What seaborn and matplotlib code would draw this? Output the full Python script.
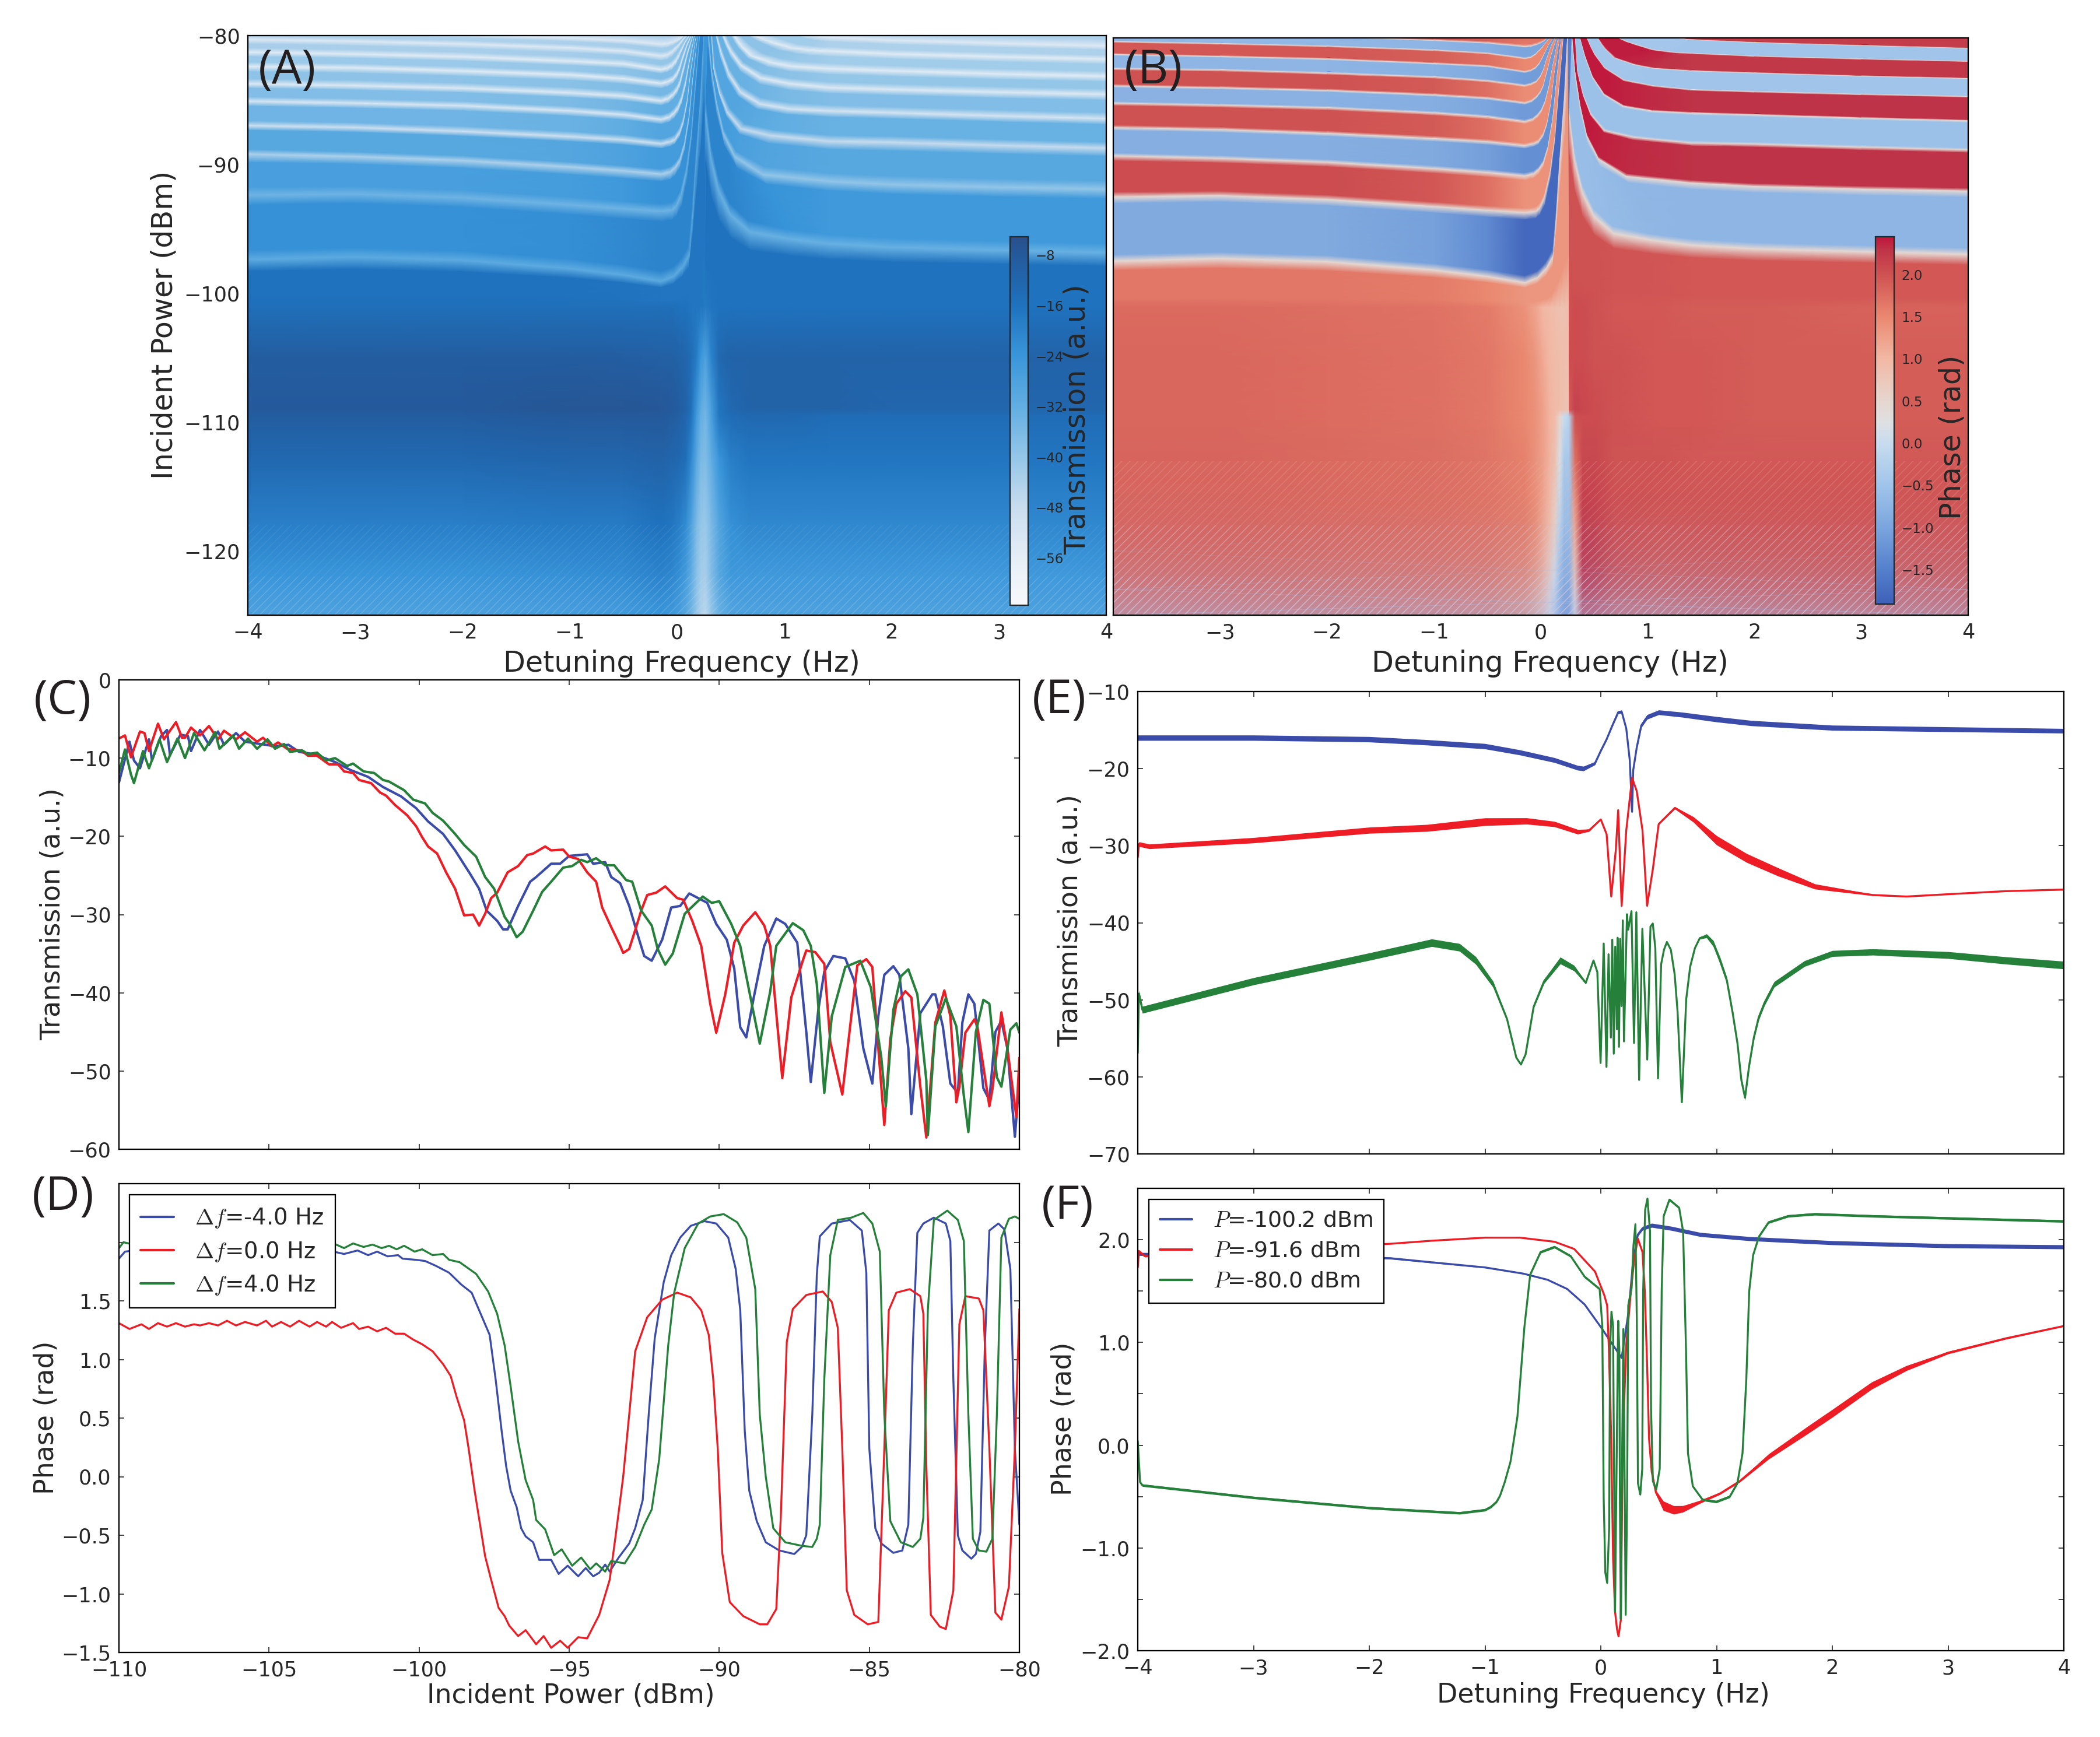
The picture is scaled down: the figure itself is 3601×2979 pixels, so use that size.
import numpy as np
import matplotlib
matplotlib.use("Agg")
import matplotlib.pyplot as plt
import seaborn as sns
from matplotlib.colors import LinearSegmentedColormap, Normalize

BLUE = "#3b4ba9"
RED = "#ee1c25"
GREEN = "#25803a"
W, H = 3601, 2979

# colour scales
T_STOPS = [-63.5, -56, -48, -40, -32, -24, -16, -8, -5.1]
T_COLORS = ["#f7fafc", "#e6eef6", "#c8dcee", "#94c6e8", "#62aee2", "#3a96da", "#1f72be", "#245a9c", "#2a4f8a"]
PH_STOPS = [-1.907, -1.5, -1.0, -0.5, 0.0, 0.25, 0.5, 1.0, 1.5, 2.0, 2.3, 2.446]
PH_COLORS = ["#3e60b8", "#5580cc", "#7ba5dd", "#a0c4ea", "#c8dcef", "#dfe0e2", "#e6d6d0", "#f2b8a4",
             "#ea8870", "#cf5252", "#be3347", "#c0143c"]

# resonance ridges left of the centre, top to bottom: detuning (Hz) and power (dBm)
L_FLAT_X = [-4, -3, -2, -1, -0.5, -0.15]
L_FLAT_P = [
    [-79.5, -79.7, -79.9, -80.2, -80.4, -80.68],
    [-80.3, -80.45, -80.65, -80.95, -81.2, -81.59],
    [-81.3, -81.45, -81.65, -82, -82.2, -82.65],
    [-82.4, -82.5, -82.75, -83.05, -83.35, -83.71],
    [-83.75, -83.9, -84.1, -84.45, -84.7, -85.08],
    [-85.1, -85.25, -85.45, -85.85, -86.15, -86.52],
    [-87, -87.15, -87.45, -87.85, -88.1, -88.41],
    [-89.2, -89.4, -89.7, -90.2, -90.5, -90.76],
    [-92.4, -92.3, -92.6, -93.15, -93.45, -93.64],
    [-97.4, -97.2, -97.45, -98.1, -98.6, -99.09],
]
L_RISE_X = [
    [-0.096, -0.042, -0.005, 0.022, 0.04, 0.053, 0.06],
    [-0.096, -0.051, -0.015, 0.013, 0.04, 0.067, 0.094],
    [-0.096, -0.051, -0.015, 0.013, 0.04, 0.076, 0.118],
    [-0.096, -0.042, -0.005, 0.022, 0.058, 0.1, 0.136],
    [-0.087, -0.042, -0.005, 0.022, 0.058, 0.1, 0.151],
    [-0.078, -0.033, 0.004, 0.04, 0.076, 0.113, 0.165],
    [-0.069, -0.024, 0.022, 0.058, 0.094, 0.131, 0.18],
    [-0.069, -0.024, 0.022, 0.067, 0.113, 0.149, 0.194],
    [-0.051, -0.015, 0.031, 0.085, 0.131, 0.167, 0.212],
    [-0.033, 0.05, 0.119, 0.146, 0.18, 0.22, 0.25],
]
L_RISE_P = [
    [-80.65, -80.53, -80.41, -80.3, -80.2, -80.08, -80],
    [-81.52, -81.29, -80.98, -80.76, -80.45, -80.2, -80],
    [-82.55, -82.35, -82.02, -81.59, -81.14, -80.53, -80],
    [-83.61, -83.41, -83.03, -82.58, -81.59, -80.61, -80],
    [-84.92, -84.62, -84.24, -83.79, -82.65, -81.29, -80],
    [-86.36, -86.06, -85.68, -85, -83.86, -82.2, -80],
    [-88.26, -88.11, -87.58, -86.74, -85.23, -82.65, -80],
    [-90.6, -90.3, -89.77, -88.56, -86.29, -83.26, -80],
    [-93.56, -93.33, -92.58, -90.68, -87.95, -84.32, -80],
    [-98.71, -98, -97, -94, -89.4, -84.9, -80],
]

# resonance ridges right of the centre
R_TAIL_X = [1.414, 2, 3, 4]
R_HEAD_X = [
    [1.268, 1.29, 1.31, 1.34, 1.37, 1.4],
    [0.72, 0.8, 0.867, 1.05, 1.2, 1.3],
    [0.53, 0.56, 0.593, 0.684, 0.867, 1.05],
    [0.429, 0.46, 0.5, 0.593, 0.776, 1.05],
    [0.365, 0.411, 0.484, 0.593, 0.776, 1.05],
    [0.319, 0.338, 0.392, 0.465, 0.593, 0.867],
    [0.292, 0.319, 0.365, 0.429, 0.538, 0.8],
    [0.265, 0.319, 0.392, 0.502, 0.684, 1.05],
]
R_P = [
    [-80, -80.03, -80.06, -80.09, -80.12, -80.14, -80.15, -80.37, -80.61, -80.82],
    [-80, -80.3, -80.48, -80.94, -81.1, -81.17, -81.21, -81.43, -81.65, -81.83],
    [-80, -80.4, -80.79, -81.55, -82.08, -82.38, -82.58, -82.74, -82.99, -83.17],
    [-80, -80.6, -81.24, -82.3, -83.29, -83.74, -84.05, -84.2, -84.4, -84.57],
    [-80, -81.39, -83.06, -84.42, -85.33, -85.71, -85.86, -86, -86.25, -86.46],
    [-80, -82.6, -84.42, -85.94, -87.23, -87.76, -88.21, -88.29, -88.53, -88.74],
    [-80, -82.6, -85.18, -87.61, -89.42, -90.8, -91.32, -91.58, -91.79, -91.94],
    [-86.09, -89.73, -92.15, -93.97, -95.26, -95.79, -96.17, -96.45, -96.67, -96.88],
]

# lower part of the maps, one row per power
LOW_P = [-101, -105, -109, -109.5, -113, -118, -122, -125]
LOW_L_X = [-4, -3, -2, -1, -0.5, -0.15, -0.05, 0.02, 0.08, 0.13, 0.18, 0.22, 0.265]
LOW_R_X = [0.265, 0.319, 0.392, 0.502, 0.684, 1.05, 1.414, 2, 3, 4]

A_LOW_L = [
    [-15, -15, -15, -15, -15, -15, -15, -16, -16, -17, -17, -17, -18],
    [-9, -9, -9, -9, -9.5, -10, -10, -11, -12, -14, -18, -24, -28],
    [-8, -8, -8, -7, -7, -7.5, -8, -9, -11, -15, -24, -31, -34],
    [-9, -9, -9, -8, -8, -8, -9, -10, -12, -16, -25, -32, -35],
    [-13, -13, -13, -12, -12, -11, -12, -13, -15, -21, -30, -36, -37],
    [-19, -19, -19, -18, -18, -16, -17, -19, -22, -28, -36, -40, -41],
    [-24, -24, -24, -23, -22, -20, -21, -23, -26, -31, -38, -42, -43],
    [-28, -28, -28, -27, -26, -24, -25, -27, -30, -34, -40, -44, -46],
]
A_LOW_R = [
    [-18, -17, -16, -16, -16, -16, -16, -16, -16, -16],
    [-28, -20, -13, -11, -11, -11, -11, -11, -11, -11],
    [-34, -27, -17, -13, -11, -11, -11, -12, -12, -12],
    [-35, -27, -17, -14, -13, -13, -14, -14, -14, -14],
    [-37, -32, -24, -19, -17, -17, -17, -17, -17, -17],
    [-41, -36, -29, -23, -21, -21, -21, -21, -21, -21],
    [-43, -37, -30, -25, -25, -25, -25, -25, -25, -25],
    [-46, -40, -33, -29, -28, -28, -28, -28, -28, -28],
]
B_LOW_L = [
    [1.78, 1.78, 1.74, 1.7, 1.62, 1.4, 1.2, 1.0, 0.95, 0.9, 0.85, 0.85, 0.9],
    [1.8, 1.8, 1.76, 1.72, 1.65, 1.5, 1.35, 1.15, 1.0, 0.95, 0.9, 0.9, 0.9],
    [1.8, 1.8, 1.76, 1.72, 1.65, 1.5, 1.4, 1.25, 1.05, 0.95, 0.9, 0.85, 0.8],
    [1.8, 1.8, 1.76, 1.72, 1.65, 1.5, 1.4, 1.25, 1.05, 0.95, 0.5, 0.0, -0.2],
    [1.82, 1.82, 1.78, 1.74, 1.68, 1.55, 1.4, 1.25, 1.05, 0.85, 0.2, -0.4, -0.4],
    [1.85, 1.85, 1.8, 1.75, 1.7, 1.6, 1.45, 1.2, 0.95, 0.6, -0.2, -0.6, -0.6],
    [1.85, 1.85, 1.8, 1.75, 1.7, 1.55, 1.35, 1.1, 0.7, 0.1, -0.6, -0.9, -0.9],
    [1.85, 1.85, 1.8, 1.75, 1.7, 1.5, 1.2, 0.9, 0.3, -0.3, -1.0, -1.3, -1.3],
]
B_LOW_R = [
    [2.0, 2.05, 2.05, 2.0, 1.95, 1.95, 1.9, 1.9, 1.85, 1.85],
    [2.05, 2.05, 2.05, 2.0, 2.0, 1.95, 1.95, 1.9, 1.9, 1.9],
    [1.9, 2.15, 2.1, 2.05, 2.0, 1.95, 1.95, 1.9, 1.9, 1.9],
    [-0.2, 2.0, 2.05, 2.05, 2.0, 1.95, 1.95, 1.9, 1.9, 1.9],
    [-0.4, 1.7, 2.1, 2.1, 2.0, 2.0, 1.95, 1.95, 1.95, 1.95],
    [-0.6, 1.2, 2.25, 2.2, 2.05, 2.0, 2.0, 2.0, 2.0, 2.0],
    [-0.9, 0.8, 2.35, 2.3, 2.1, 2.0, 2.0, 2.0, 2.0, 2.0],
    [-1.3, 0.3, 2.3, 2.25, 2.05, 2.0, 2.0, 2.0, 2.0, 2.0],
]

# values on the ridges and inside each band
L_MIX = [0, 0, 0, 0.15, 0.5, 1, 1, 1, 1, 1, 1, 1, 1]
R_MIX = [1, 1, 1, 1, 0.7, 0.3, 0, 0, 0, 0]
A_L_EDGE = [-44, -54, -54, -55, -55, -54, -53, -50, -44, -34, -31]
A_L_OUTER = [-44, -44, -43, -41, -39, -37, -34, -30, -27, -23, -16]
A_L_INNER = [-44, -42, -40, -37, -35, -32, -29, -26, -23, -20, -17]
A_L_FRAC = [0.3, 0.35, 0.35, 0.3, 0.3, 0.25, 0.2, 0.16, 0.2, 0.15, 0.25]
A_R_EDGE = [-44, -54, -55, -55, -54, -52, -48, -40, -33]
A_R_OUTER = [-44, -44, -42, -40, -37, -33, -30, -25, -16]
A_R_INNER = [-44, -42, -39, -36, -33, -29, -26, -20, -16]
A_R_FRAC = [0.3, 0.3, 0.3, 0.3, 0.25, 0.2, 0.2, 0.15, 0.25]
B_L_EDGE = [0.45] * 11
B_L_OUTER = [2.0, -0.7, 1.95, -0.75, 2.0, -0.8, 2.0, -0.85, 2.05, -0.92, 1.65]
B_L_INNER = [1.65, -1.0, 1.5, -1.1, 1.45, -1.15, 1.45, -1.3, 1.4, -1.8, 1.35]
B_L_FRAC = [0.1, 0.1, 0.1, 0.1, 0.1, 0.1, 0.1, 0.1, 0.12, 0.1, 0.2]
B_R_EDGE = [0.45] * 9
B_R_OUTER = [2.2, -0.5, 2.25, -0.5, 2.3, -0.55, 2.3, -0.75, 1.95]
B_R_INNER = [2.3, -0.45, 2.4, -0.45, 2.42, -0.55, 2.42, -0.6, 2.0]
B_R_FRAC = [0.04, 0.05, 0.05, 0.05, 0.05, 0.07, 0.07, 0.1, 0.2]

# bluish speckle over the bottom of (B), as opacity
SPECKLE_X = [-4, 4]
SPECKLE_P = [-110, -116, -120, -123, -125]
SPECKLE = [[0, 0], [0.03, 0.03], [0.12, 0.12], [0.28, 0.28], [0.5, 0.5]]

# panel C: transmission against power
C_RED_X = [-110, -109.8, -109.6, -109.3, -109.15, -109, -108.7, -108.5, -108.1, -107.9, -107.8, -107.6, -107.3, -107, -106.7, -106.5, -106.1, -105.8, -105.4, -105.2, -104.9, -104.7, -104.4, -103.9, -103.7, -103.4, -103, -102.7, -102.5, -102.2, -102, -101.6, -101.3, -101.1, -100.8, -100.4, -100.1, -99.9, -99.7, -99.4, -99.1, -98.8, -98.5, -98.2, -98, -97.8, -97.6, -97.4, -97.05, -96.7, -96.4, -96.2, -95.8, -95.6, -95.2, -95, -94.7, -94.4, -94.1, -93.9, -93.6, -93.3, -93.2, -93, -92.8, -92.6, -92.4, -92.1, -91.8, -91.4, -91.2, -90.9, -90.6, -90.3, -90.1, -89.8, -89.5, -89.2, -88.8, -88.5, -88.3, -88.1, -87.9, -87.6, -87.2, -87.1, -86.8, -86.5, -86.3, -85.9, -85.6, -85.4, -85.1, -84.9, -84.7, -84.5, -84.3, -84.1, -83.8, -83.6, -83.3, -83.1, -82.8, -82.5, -82.3, -82.1, -82, -81.8, -81.5, -81.4, -81, -80.9, -80.6, -80.4, -80.1, -80]
C_RED_Y = [-7.5, -7.1, -9.9, -6.6, -6.8, -9.1, -5.6, -7.6, -5.4, -7.4, -7.4, -6.1, -7.1, -5.9, -7.6, -6.5, -7.6, -6.7, -7.9, -7.4, -8.5, -8, -8.8, -9.1, -9.7, -9.7, -10.8, -10.8, -11.7, -11.9, -12.8, -13.2, -14.4, -14.8, -16, -17.3, -18.7, -20.1, -21.3, -22.2, -24.6, -26.7, -30.1, -30, -31.4, -29.9, -27.9, -27.2, -24.6, -23.8, -22.4, -22.2, -21.3, -21.8, -21.7, -22.6, -22.9, -24.6, -25.8, -29.1, -31.6, -34, -34.9, -34.4, -32, -29.5, -27.5, -27.2, -26.4, -27.9, -28.1, -30.8, -34, -41.4, -45.1, -40.2, -33.6, -31.4, -29.7, -31.4, -34, -42.6, -50.9, -40.6, -35.7, -34.6, -34.8, -36.3, -46.3, -53, -43, -36.5, -35.7, -36.7, -47.1, -56.9, -45.9, -41.4, -39.8, -40.6, -52, -58.5, -43.8, -39.7, -43, -54, -52, -45.1, -43.4, -44.3, -54.5, -52.4, -42.5, -47.1, -55.9, -48.3]
C_BLUE_X = [-110, -109.65, -109.5, -109.3, -109, -108.9, -108.6, -108.4, -108.3, -107.95, -107.7, -107.6, -107.3, -107, -106.7, -106.5, -106.1, -105.8, -105.1, -104.8, -104.35, -104, -103.5, -102.8, -102.3, -101.7, -101.2, -100.6, -100.1, -99.7, -99.2, -98.8, -98.3, -98, -97.75, -97.4, -97.2, -97.05, -96.7, -96.3, -96.1, -95.6, -95.3, -95, -94.4, -94.2, -93.8, -93.6, -93.3, -93, -92.7, -92.5, -92.25, -91.9, -91.6, -91.3, -91, -90.4, -90.1, -89.75, -89.5, -89.3, -89.1, -88.85, -88.5, -88.1, -87.8, -87.4, -87.1, -86.95, -86.7, -86.5, -86.2, -85.8, -85.5, -85.2, -84.9, -84.7, -84.5, -84.2, -84, -83.7, -83.6, -83.3, -82.9, -82.8, -82.55, -82.3, -82.05, -81.9, -81.7, -81.5, -81.2, -81, -80.8, -80.6, -80.4, -80.15, -80]
C_BLUE_Y = [-13.1, -7.9, -10.3, -11.3, -7.6, -10.3, -7.2, -6.4, -9.6, -7, -7.2, -9.1, -6.4, -8.3, -6.6, -8.3, -6.8, -7.9, -8.3, -8.5, -8.3, -9.2, -9.5, -10.5, -11.5, -12.4, -13.7, -14.9, -16.4, -18.1, -19.7, -21.8, -24.8, -26.7, -29.5, -30.8, -31.9, -31.9, -28.9, -25.8, -25.2, -23.5, -23.5, -22.5, -22.3, -23.5, -23.3, -25.2, -26, -28.9, -32.8, -35.3, -35.9, -33.2, -29.1, -28.9, -27.3, -28.5, -31.2, -33.2, -36.9, -44.4, -45.7, -40.6, -34, -30.5, -31.2, -33.6, -45, -51.4, -42.2, -37.3, -35.3, -35.6, -38.5, -47.1, -51.6, -43, -37.7, -36.6, -37.7, -47.1, -55.5, -42.6, -40.2, -40.2, -44.3, -51.6, -52.8, -43.8, -40.2, -41.4, -52.2, -53.7, -45, -43.6, -47.1, -58.4, -51.2]
C_GREEN_X = [-110, -109.8, -109.6, -109.5, -109.2, -109, -108.65, -108.4, -108.05, -107.8, -107.5, -107.15, -106.8, -106.65, -106.2, -106, -105.7, -105.4, -105.05, -104.8, -104.5, -104.3, -103.9, -103.7, -103.4, -103.1, -102.8, -102.4, -102.2, -101.85, -101.5, -101.2, -101, -100.5, -100.2, -99.8, -99.55, -99.2, -98.8, -98.5, -98.1, -97.8, -97.5, -97.15, -96.95, -96.75, -96.55, -96.2, -95.9, -95.6, -95.2, -94.9, -94.6, -94.4, -94.1, -93.8, -93.5, -93.1, -92.9, -92.6, -92.25, -92.05, -91.8, -91.55, -91.15, -90.55, -90.25, -90, -89.6, -89.3, -89, -88.65, -88.3, -88.1, -87.55, -87.2, -86.95, -86.75, -86.5, -86.25, -85.8, -85.3, -84.95, -84.6, -84.45, -84.2, -83.95, -83.7, -83.4, -83.1, -83.05, -82.8, -82.45, -82.1, -81.85, -81.7, -81.45, -81.2, -81, -80.75, -80.6, -80.3, -80.1, -80]
C_GREEN_Y = [-11.9, -8.9, -12.1, -13.2, -9.1, -11.3, -7.6, -10.5, -7.5, -10, -6.8, -9, -6.7, -8.8, -7.1, -8.8, -7.5, -8.8, -7.6, -8.8, -8.2, -9.2, -9, -9.5, -9.3, -10.3, -10, -11, -10.7, -11.7, -11.9, -12.8, -13, -14.1, -15.3, -15.8, -17, -18, -19.7, -21.1, -22.6, -25.2, -26.7, -30.3, -31.4, -32.9, -32.2, -29.5, -27.1, -25.8, -24, -23.8, -23, -23.3, -22.8, -23.7, -23.7, -25.6, -25.8, -29.5, -31.4, -34.4, -36.4, -35, -29.9, -27.7, -28.5, -28.3, -31.2, -34, -39.8, -46.5, -39.8, -34, -31.1, -32, -34, -38.9, -52.8, -43, -36.7, -35.9, -39.3, -48.3, -54.5, -42.2, -37.9, -37, -40.2, -51.2, -58.2, -44.3, -40.7, -44.3, -53.2, -57.8, -45, -40.9, -41.4, -50.8, -52, -44.7, -43.9, -45.1]

# panel D: phase against power
D_RED_X = [-110, -109.65, -109.25, -109, -108.7, -108.4, -108.1, -107.8, -107.5, -107.3, -107, -106.7, -106.4, -106.1, -105.8, -105.4, -105.1, -104.9, -104.6, -104.3, -104, -103.65, -103.4, -103.1, -102.9, -102.6, -102.2, -102, -101.7, -101.4, -101.1, -100.8, -100.5, -100.2, -99.9, -99.55, -99.2, -98.95, -98.75, -98.5, -98.35, -98.15, -97.95, -97.8, -97.6, -97.35, -97.15, -97, -96.7, -96.45, -96.1, -95.85, -95.6, -95.3, -95.05, -94.7, -94.4, -94, -93.65, -93.45, -93.2, -93, -92.8, -92.4, -91.9, -91.4, -90.95, -90.6, -90.35, -90.2, -90.05, -89.9, -89.65, -89.2, -88.65, -88.4, -88.1, -87.95, -87.75, -87.55, -87.1, -86.55, -86.25, -86.05, -85.9, -85.75, -85.5, -85.05, -84.7, -84.5, -84.35, -84.1, -83.65, -83.3, -83.2, -83.1, -82.95, -82.65, -82.45, -82.2, -82, -81.8, -81.35, -81.2, -81, -80.8, -80.6, -80.35, -80.15, -80]
D_RED_Y = [1.31, 1.26, 1.3, 1.26, 1.31, 1.28, 1.31, 1.28, 1.3, 1.29, 1.31, 1.29, 1.33, 1.29, 1.32, 1.29, 1.33, 1.28, 1.32, 1.28, 1.33, 1.28, 1.32, 1.28, 1.32, 1.27, 1.31, 1.26, 1.28, 1.24, 1.27, 1.22, 1.22, 1.17, 1.13, 1.07, 0.96, 0.86, 0.68, 0.48, 0.24, -0.12, -0.44, -0.68, -0.88, -1.12, -1.19, -1.27, -1.36, -1.31, -1.43, -1.36, -1.46, -1.4, -1.46, -1.37, -1.38, -1.18, -0.88, -0.5, 0, 0.53, 1.07, 1.36, 1.51, 1.57, 1.53, 1.42, 1.21, 0.83, 0.24, -0.65, -1.07, -1.19, -1.26, -1.26, -1.13, -0.35, 1.15, 1.43, 1.55, 1.58, 1.49, 1.27, 0.24, -0.97, -1.18, -1.26, -1.24, 0.24, 1.42, 1.57, 1.6, 1.54, 1.39, 0.09, -1.18, -1.28, -1.3, -0.97, 1.3, 1.54, 1.52, 1.42, 0.24, -1.16, -1.22, -0.94, 0.24, 1.43]
D_BLUE_X = [-110, -109.8, -109.5, -108.5, -107, -105.5, -104, -102.85, -102.5, -102.05, -101.7, -101.4, -101.05, -100.7, -100.55, -100.1, -99.8, -99.45, -99, -98.6, -98.25, -98, -97.65, -97.45, -97.25, -97.1, -96.95, -96.75, -96.6, -96.45, -96.2, -96, -95.6, -95.35, -95.05, -94.7, -94.45, -94.2, -94, -93.8, -93.65, -93.35, -93, -92.8, -92.55, -92.35, -92.15, -91.85, -91.6, -91.3, -90.95, -90.5, -90.1, -89.7, -89.45, -89.3, -89.15, -89, -88.75, -88.45, -88, -87.5, -87.25, -87.1, -86.9, -86.75, -86.65, -86.25, -85.65, -85.25, -85.1, -85, -84.8, -84.6, -84.2, -83.9, -83.7, -83.55, -83.4, -83.2, -82.85, -82.45, -82.3, -82.2, -82.05, -81.9, -81.6, -81.45, -81.3, -81.15, -81, -80.7, -80.5, -80.3, -80.15, -80]
D_BLUE_Y = [1.86, 1.92, 1.93, 1.93, 1.93, 1.93, 1.93, 1.92, 1.9, 1.93, 1.89, 1.92, 1.88, 1.89, 1.86, 1.85, 1.84, 1.8, 1.74, 1.64, 1.57, 1.42, 1.21, 0.83, 0.39, 0.09, -0.12, -0.26, -0.44, -0.51, -0.56, -0.71, -0.71, -0.83, -0.76, -0.85, -0.78, -0.85, -0.82, -0.75, -0.81, -0.69, -0.57, -0.44, -0.2, 0.53, 1.18, 1.66, 1.89, 2.04, 2.14, 2.18, 2.16, 2.04, 1.77, 1.42, 0.39, -0.12, -0.38, -0.56, -0.63, -0.66, -0.6, -0.5, 0.53, 1.72, 2.05, 2.16, 2.19, 2.1, 1.74, 0.24, -0.44, -0.57, -0.65, -0.63, -0.41, 1.12, 2.08, 2.16, 2.21, 2.16, 2.01, 0.83, -0.5, -0.63, -0.7, -0.66, -0.47, 1.12, 2.1, 2.16, 2.11, 1.77, 0.24, -0.41]
D_GREEN_X = [-110, -109.85, -109.5, -108.5, -107, -105.5, -104, -102.85, -102.5, -102.2, -101.85, -101.55, -101.25, -101, -100.75, -100.5, -100.15, -99.9, -99.55, -99.2, -99, -98.65, -98.1, -97.7, -97.4, -97.15, -96.95, -96.7, -96.45, -96.2, -96.1, -95.8, -95.5, -95.25, -94.9, -94.6, -94.3, -94.1, -93.8, -93.6, -93.15, -92.8, -92.5, -92.25, -92, -91.7, -91.5, -91.15, -90.7, -90.3, -89.85, -89.4, -89.1, -88.8, -88.65, -88.45, -88.2, -87.8, -87.25, -86.9, -86.75, -86.65, -86.5, -86.3, -86.05, -85.6, -85.2, -84.9, -84.65, -84.5, -84.3, -83.95, -83.55, -83.3, -83.2, -83.05, -82.85, -82.4, -82.05, -81.85, -81.7, -81.55, -81.35, -81.1, -80.9, -80.75, -80.6, -80.35, -80.15, -80]
D_GREEN_Y = [1.95, 2.0, 1.98, 1.98, 1.98, 1.98, 1.98, 1.99, 1.95, 1.99, 1.96, 1.98, 1.95, 1.97, 1.94, 1.97, 1.92, 1.94, 1.89, 1.9, 1.85, 1.83, 1.73, 1.58, 1.39, 1.12, 0.77, 0.3, -0.03, -0.2, -0.37, -0.45, -0.67, -0.62, -0.76, -0.69, -0.79, -0.74, -0.81, -0.72, -0.74, -0.6, -0.41, -0.28, 0.15, 1.12, 1.57, 1.95, 2.16, 2.22, 2.24, 2.17, 2.04, 1.6, 0.53, 0, -0.44, -0.56, -0.59, -0.6, -0.53, -0.41, 0.83, 1.89, 2.19, 2.21, 2.25, 2.16, 1.92, 0.53, -0.38, -0.56, -0.6, -0.53, -0.35, 1.42, 2.19, 2.27, 2.19, 2.01, 0.53, -0.53, -0.63, -0.64, -0.53, 0.53, 2.04, 2.2, 2.22, 2.2]

# panel E: transmission against detuning
E_BLUE_X = [-4, -3, -2, -1.5, -1, -0.7, -0.4, -0.2, -0.15, -0.05, 0, 0.05, 0.1, 0.15, 0.18, 0.22, 0.25, 0.27, 0.28, 0.31, 0.35, 0.4, 0.5, 0.7, 1, 1.3, 2, 3, 4]
E_BLUE_Y = [-16, -16, -16.2, -16.6, -17.1, -17.9, -18.9, -19.9, -20, -19.3, -17.7, -16.2, -14.4, -12.7, -12.6, -14.8, -18.9, -25.6, -20.2, -17.3, -14.4, -13.3, -12.7, -13, -13.6, -14.1, -14.7, -14.9, -15.1]
E_RED_X = [-4, -3.99, -3.9, -3, -2, -1.5, -1, -0.64, -0.4, -0.2, -0.1, 0, 0.05, 0.09, 0.13, 0.15, 0.18, 0.22, 0.27, 0.31, 0.36, 0.4, 0.45, 0.5, 0.64, 0.8, 1, 1.26, 1.53, 1.85, 2.35, 2.64, 3, 3.5, 4]
E_RED_Y = [-31.5, -29.8, -30.1, -29.3, -28, -27.7, -26.9, -26.8, -27.2, -28.2, -28, -26.6, -28.5, -36.6, -30.5, -25.4, -37.8, -28, -21.2, -22.9, -28, -37.8, -33, -27.2, -25.1, -26.6, -29.3, -31.6, -33.4, -35.3, -36.4, -36.6, -36.3, -35.9, -35.7]
E_GREEN_X = [-4, -3.99, -3.96, -3, -2, -1.46, -1.22, -1.08, -0.93, -0.81, -0.73, -0.69, -0.65, -0.58, -0.49, -0.35, -0.23, -0.13, -0.063, -0.03, -0.002, 0.025, 0.049, 0.067, 0.087, 0.099, 0.112, 0.125, 0.139, 0.145, 0.157, 0.167, 0.179, 0.19, 0.2, 0.226, 0.237, 0.265, 0.287, 0.307, 0.331, 0.359, 0.401, 0.429, 0.449, 0.471, 0.494, 0.521, 0.546, 0.571, 0.605, 0.638, 0.663, 0.7, 0.738, 0.772, 0.813, 0.855, 0.914, 0.972, 1.03, 1.089, 1.139, 1.181, 1.214, 1.246, 1.281, 1.322, 1.364, 1.414, 1.498, 1.76, 2, 2.35, 3, 3.5, 4]
E_GREEN_Y = [-56.9, -49.2, -51.3, -47.6, -44.4, -42.6, -43.2, -44.9, -48, -52.5, -57.5, -58.4, -57.1, -50.9, -47.6, -44.9, -45.9, -47.8, -44.9, -46.4, -58.2, -42.7, -58.7, -44.1, -54.9, -42.2, -57, -43.1, -53.8, -41.95, -56.1, -42.1, -50.8, -39.7, -55.4, -38.9, -40.9, -38.5, -55.6, -38.65, -60.4, -40.8, -57.75, -40.5, -40.1, -43.3, -60.2, -45.4, -43.5, -42.5, -43.5, -46.7, -51.5, -63.3, -49.9, -45.7, -43.3, -42, -41.7, -42.7, -44.9, -47.5, -51.7, -55.7, -60.4, -62.7, -58.6, -54.9, -52.3, -50.4, -48, -45.3, -44, -43.8, -44.2, -44.9, -45.5]

# panel F: phase against detuning
F_BLUE_X = [-4, -3, -1.82, -1.46, -1, -0.67, -0.46, -0.29, -0.14, 0, 0.12, 0.18, 0.24, 0.28, 0.32, 0.36, 0.44, 0.61, 0.86, 1.28, 2, 3, 4]
F_BLUE_Y = [1.86, 1.86, 1.82, 1.78, 1.73, 1.67, 1.61, 1.52, 1.37, 1.15, 0.95, 0.85, 1.3, 1.8, 2.05, 2.11, 2.14, 2.11, 2.05, 2.01, 1.97, 1.94, 1.93]
F_RED_X = [-4, -3.99, -3.94, -3, -1.82, -1.46, -1, -0.7, -0.4, -0.23, -0.05, 0.03, 0.055, 0.07, 0.09, 0.106, 0.123, 0.14, 0.153, 0.173, 0.19, 0.22, 0.26, 0.29, 0.32, 0.36, 0.38, 0.4, 0.417, 0.44, 0.476, 0.54, 0.63, 0.71, 0.86, 1.03, 1.2, 1.45, 1.79, 2, 2.34, 2.64, 3, 3.5, 4]
F_RED_Y = [1.73, 1.89, 1.84, 1.9, 1.96, 1.99, 2.02, 2.02, 1.98, 1.91, 1.69, 1.46, 1.36, 0.93, 0.06, -1.1, -1.62, -1.79, -1.86, -1.7, 0.06, 0.98, 1.5, 1.82, 2.01, 1.88, 1.5, 0.78, 0.06, -0.26, -0.46, -0.59, -0.63, -0.62, -0.55, -0.47, -0.35, -0.11, 0.15, 0.31, 0.58, 0.75, 0.9, 1.04, 1.16]
F_GREEN_X = [-4, -3.98, -3.96, -3, -2, -1.22, -1, -0.95, -0.9, -0.87, -0.83, -0.78, -0.72, -0.66, -0.61, -0.52, -0.4, -0.26, -0.14, -0.01, 0.013, 0.025, 0.039, 0.055, 0.072, 0.08, 0.092, 0.106, 0.114, 0.123, 0.136, 0.15, 0.16, 0.165, 0.173, 0.183, 0.195, 0.203, 0.215, 0.227, 0.237, 0.266, 0.282, 0.299, 0.311, 0.321, 0.341, 0.358, 0.366, 0.383, 0.403, 0.425, 0.434, 0.45, 0.479, 0.509, 0.526, 0.543, 0.593, 0.677, 0.711, 0.736, 0.753, 0.795, 0.879, 0.997, 1.114, 1.18, 1.224, 1.257, 1.282, 1.316, 1.366, 1.45, 1.618, 1.85, 2.35, 3, 4]
F_GREEN_Y = [0.04, -0.36, -0.39, -0.51, -0.61, -0.66, -0.63, -0.6, -0.55, -0.49, -0.36, -0.16, 0.28, 1.15, 1.66, 1.88, 1.93, 1.84, 1.64, 1.52, 1.16, -0.52, -1.24, -1.34, -0.81, 0.93, 1.3, 1.16, -0.23, -1.62, -0.23, 1.21, 0.93, -0.52, -1.69, -0.23, 1.13, 0.06, -1.65, -0.52, 1.36, 1.53, 1.94, 2.15, 1.22, -0.37, -0.48, -0.23, 1.5, 2.29, 2.4, 2.08, 0.35, -0.35, -0.43, -0.23, 1.5, 2.23, 2.39, 2.31, 2.08, 0.93, -0.08, -0.4, -0.53, -0.55, -0.5, -0.37, -0.08, 0.64, 1.5, 1.85, 2.03, 2.17, 2.23, 2.25, 2.23, 2.21, 2.18]

# half height of the fast ripple on E and F
E_RIPPLE = {
    "blue": ([-4, -1, -0.1, 0.0, 0.4, 1, 4], [0.35, 0.35, 0.3, 0.12, 0.3, 0.35, 0.3]),
    "red": ([-4, -2, -1, -0.2, 0.0, 0.6, 1, 1.5, 2.2, 2.6, 4], [0.3, 0.4, 0.5, 0.3, 0, 0.1, 0.6, 0.55, 0.12, 0.05, 0.05]),
    "green": ([-4, -1, -0.7, -0.3, -0.05, 0.8, 1.0, 1.3, 4], [0.45, 0.5, 0.05, 0.5, 0, 0, 0.45, 0.35, 0.5]),
}
F_RIPPLE = {
    "blue": ([-4, -2, -1, 0, 0.4, 4], [0.015, 0.01, 0.005, 0.003, 0.02, 0.02]),
    "red": ([-4, -1.4, 0.42, 0.55, 0.9, 1.2, 1.6, 2.2, 3, 4], [0.01, 0, 0, 0.05, 0.01, 0.01, 0.035, 0.04, 0.012, 0.005]),
    "green": ([-4, 4], [0.012, 0.012]),
}


def make_cmap(stops, colors):
    norm = Normalize(stops[0], stops[-1])
    pairs = [(float(norm(s)), c) for s, c in zip(stops, colors)]
    return LinearSegmentedColormap.from_list("scale", pairs, N=512), norm


def band_mesh(ridge_x, ridge_p, edge, outer, inner, frac, mix, low_x, low_vals):
    ridge_x = np.asarray(ridge_x, float)
    ridge_p = np.asarray(ridge_p, float)
    mix = np.asarray(mix, float)
    # the first lower row closes the last band
    ridge_x = np.vstack([ridge_x, low_x])
    ridge_p = np.vstack([ridge_p, np.full(len(low_x), LOW_P[0])])
    xs, ys, cs = [], [], []
    for i in range(len(ridge_x) - 1):
        fill = outer[i] * (1 - mix) + inner[i] * mix
        for f, val in ((0, np.full(len(mix), edge[i])), (frac[i], fill), (1 - frac[i], fill)):
            xs.append(ridge_x[i] * (1 - f) + ridge_x[i + 1] * f)
            ys.append(ridge_p[i] * (1 - f) + ridge_p[i + 1] * f)
            cs.append(val)
    for p, vals in zip(LOW_P, low_vals):
        xs.append(np.array(low_x, float))
        ys.append(np.full(len(low_x), p))
        cs.append(np.array(vals, float))
    return np.array(xs), np.array(ys), np.array(cs)


def px_axes(fig, left, top, right, bottom):
    return fig.add_axes([left / W, 1 - bottom / H, (right - left) / W, (bottom - top) / H])


def style_ticks(ax):
    ax.tick_params(which="both", direction="in", top=True, right=True, bottom=True, left=True,
                   length=2.2, width=0.4, labelsize=8.4, pad=3.2)
    for spine in ax.spines.values():
        spine.set_linewidth(0.55)
        spine.set_color("black")
        spine.set_visible(True)


def place_xlabel(fig, ax, text, x, y, size=11):
    ax.set_xlabel(text, fontsize=size)
    ax.xaxis.set_label_coords(x / W, 1 - y / H, transform=fig.transFigure)
    ax.xaxis.label.set_verticalalignment("center")


def place_ylabel(fig, ax, text, x, y, size=11):
    ax.set_ylabel(text, fontsize=size)
    ax.yaxis.set_label_coords(x / W, 1 - y / H, transform=fig.transFigure)
    ax.yaxis.label.set_verticalalignment("center")


def draw_map(ax, cax, cmap, norm, left, right, under, ticks, label, label_xy, fig):
    ax.set_facecolor(cmap(norm(under)))
    mesh = None
    for X, Y, C in (left, right):
        mesh = ax.pcolormesh(X, Y, C, cmap=cmap, norm=norm, shading="gouraud", rasterized=True)
    ax.set_xlim(-4, 4)
    ax.set_ylim(-125, -80)
    ax.set_xticks(np.arange(-4, 5))
    ax.set_yticks(np.arange(-125, -79, 5))
    style_ticks(ax)
    cbar = fig.colorbar(mesh, cax=cax, ticks=ticks)
    cbar.outline.set_linewidth(0.55)
    cax.tick_params(direction="in", length=2.6, width=0.4, labelsize=5.5, pad=3, right=True, left=False)
    place_ylabel(fig, cax, label, *label_xy, size=11.8)
    return mesh


def add_speckle(ax, layers):
    # fine diagonal moire of the lowest powers
    for low, high, rgba in layers:
        ax.fill_between([-4, 4], low, high, facecolor="none", edgecolor=rgba, hatch="///////", lw=0)


def draw_lines(ax, series, lw, ripple=None):
    for x, y, color, name, tag in series:
        if ripple is not None:
            knots, half = ripple[tag]
            w = np.interp(x, knots, half)
            ax.fill_between(x, np.array(y) - w, np.array(y) + w, color=color, lw=0)
        sns.lineplot(x=x, y=y, ax=ax, color=color, lw=lw, label=name, estimator=None, sort=False, legend=False)


def add_legend(ax, fig, left, top, size):
    handles, labels = ax.get_legend_handles_labels()
    leg = ax.legend(handles, labels, loc="upper left", bbox_to_anchor=(left / W, 1 - top / H),
                    bbox_transform=fig.transFigure, borderaxespad=0, fontsize=size, frameon=True,
                    fancybox=False, framealpha=1, edgecolor="black", handlelength=1.45,
                    labelspacing=0.42, borderpad=0.5, handletextpad=0.95)
    leg.get_frame().set_linewidth(0.55)
    for line in leg.get_lines():
        line.set_linewidth(1.0)


sns.set_theme(style="white", font="DejaVu Sans")
plt.rcParams["mathtext.fontset"] = "cm"
plt.rcParams["axes.unicode_minus"] = True
plt.rcParams["hatch.linewidth"] = 0.35

fig = plt.figure(figsize=(W / 300, H / 300), dpi=300)

ax_a = px_axes(fig, 425, 61, 1897, 1055)
ax_b = px_axes(fig, 1909, 65, 3375, 1055)
ax_c = px_axes(fig, 204, 1166, 1748, 1971)
ax_d = px_axes(fig, 204, 2030, 1748, 2834)
ax_e = px_axes(fig, 1951, 1186, 3539, 1979)
ax_f = px_axes(fig, 1951, 2038, 3539, 2831)
cax_a = px_axes(fig, 1732, 406, 1763, 1038)
cax_b = px_axes(fig, 3216, 406, 3248, 1036)

l_x = np.hstack([np.tile(L_FLAT_X, (10, 1)), L_RISE_X])
l_p = np.hstack([L_FLAT_P, L_RISE_P])
l_x = np.vstack([l_x[0], l_x])
l_p = np.vstack([np.full(l_p.shape[1], -79.0), l_p])
r_x = np.hstack([R_HEAD_X, np.tile(R_TAIL_X, (8, 1))])
r_p = np.array(R_P, float)
r_x = np.vstack([r_x[0], r_x])
r_p = np.vstack([np.full(r_p.shape[1], -79.0), r_p])

t_cmap, t_norm = make_cmap(T_STOPS, T_COLORS)
ph_cmap, ph_norm = make_cmap(PH_STOPS, PH_COLORS)

a_left = band_mesh(l_x, l_p, A_L_EDGE, A_L_OUTER, A_L_INNER, A_L_FRAC, L_MIX, LOW_L_X, A_LOW_L)
a_right = band_mesh(r_x, r_p, A_R_EDGE, A_R_OUTER, A_R_INNER, A_R_FRAC, R_MIX, LOW_R_X, A_LOW_R)
draw_map(ax_a, cax_a, t_cmap, t_norm, a_left, a_right, -24, [-8, -16, -24, -32, -40, -48, -56],
         "Transmission (a.u.)", (1847, 719), fig)
add_speckle(ax_a, [(-125, -118, (0.75, 0.87, 0.96, 0.10)), (-125, -122, (0.80, 0.90, 0.97, 0.15))])
ax_a.set_xlim(-4, 4)
ax_a.set_ylim(-125, -80)
ax_a.set_yticklabels(["\u2212120" if v == -120 else "\u2212110" if v == -110 else "\u2212100" if v == -100
                      else "\u221290" if v == -90 else "\u221280" if v == -80 else "" for v in np.arange(-125, -79, 5)])
place_xlabel(fig, ax_a, "Detuning Frequency (Hz)", 1169, 1138, 11.8)
place_ylabel(fig, ax_a, "Incident Power (dBm)", 282, 557, 11.8)

b_left = band_mesh(l_x, l_p, B_L_EDGE, B_L_OUTER, B_L_INNER, B_L_FRAC, L_MIX, LOW_L_X, B_LOW_L)
b_right = band_mesh(r_x, r_p, B_R_EDGE, B_R_OUTER, B_R_INNER, B_R_FRAC, R_MIX, LOW_R_X, B_LOW_R)
draw_map(ax_b, cax_b, ph_cmap, ph_norm, b_left, b_right, -1.5, [-1.5, -1.0, -0.5, 0.0, 0.5, 1.0, 1.5, 2.0],
         "Phase (rad)", (3347, 750), fig)
speckle_cmap = LinearSegmentedColormap.from_list("speckle", [(0.66, 0.73, 0.90, 0.0), (0.66, 0.73, 0.90, 1.0)])
sx, sp = np.meshgrid(SPECKLE_X, SPECKLE_P)
ax_b.pcolormesh(sx, sp, np.array(SPECKLE), cmap=speckle_cmap, vmin=0, vmax=1, shading="gouraud", rasterized=True)
add_speckle(ax_b, [(-125, -113, (0.96, 0.72, 0.66, 0.25)), (-125, -118, (0.85, 0.80, 0.88, 0.3)),
                   (-125, -122, (0.80, 0.82, 0.95, 0.4))])
ax_b.set_xlim(-4, 4)
ax_b.set_ylim(-125, -80)
ax_b.set_yticklabels([])
ax_b.set_xticklabels(["", "\u22123", "\u22122", "\u22121", "0", "1", "2", "3", "4"])
place_xlabel(fig, ax_b, "Detuning Frequency (Hz)", 2658, 1138, 11.8)

draw_lines(ax_c, [(C_BLUE_X, C_BLUE_Y, BLUE, None, "blue"), (C_RED_X, C_RED_Y, RED, None, "red"),
                  (C_GREEN_X, C_GREEN_Y, GREEN, None, "green")], 1.0)
ax_c.set_xlim(-110, -80)
ax_c.set_ylim(-60, 0)
ax_c.set_xticks(np.arange(-110, -79, 5))
ax_c.set_xticklabels([])
ax_c.set_yticks(np.arange(-60, 1, 10))
style_ticks(ax_c)
place_ylabel(fig, ax_c, "Transmission (a.u.)", 90, 1568)

draw_lines(ax_d, [(D_BLUE_X, D_BLUE_Y, BLUE, r"$\Delta f$=-4.0 Hz", "blue"),
                  (D_RED_X, D_RED_Y, RED, r"$\Delta f$=0.0 Hz", "red"),
                  (D_GREEN_X, D_GREEN_Y, GREEN, r"$\Delta f$=4.0 Hz", "green")], 0.8)
ax_d.set_xlim(-110, -80)
ax_d.set_ylim(-1.5, 2.5)
ax_d.set_xticks(np.arange(-110, -79, 5))
ax_d.set_yticks(np.arange(-1.5, 2.6, 0.5))
ax_d.set_yticklabels(["\u22121.5", "\u22121.0", "\u22120.5", "0.0", "0.5", "1.0", "1.5", "", ""])
style_ticks(ax_d)
place_xlabel(fig, ax_d, "Incident Power (dBm)", 979, 2908)
place_ylabel(fig, ax_d, "Phase (rad)", 79, 2431)
add_legend(ax_d, fig, 222, 2049, 9.3)

draw_lines(ax_e, [(E_BLUE_X, E_BLUE_Y, BLUE, None, "blue"), (E_RED_X, E_RED_Y, RED, None, "red"),
                  (E_GREEN_X, E_GREEN_Y, GREEN, None, "green")], 0.8, E_RIPPLE)
ax_e.set_xlim(-4, 4)
ax_e.set_ylim(-70, -10)
ax_e.set_xticks(np.arange(-4, 5))
ax_e.set_xticklabels([])
ax_e.set_yticks(np.arange(-70, -9, 10))
style_ticks(ax_e)
place_ylabel(fig, ax_e, "Transmission (a.u.)", 1835, 1579)

draw_lines(ax_f, [(F_BLUE_X, F_BLUE_Y, BLUE, r"$P$=-100.2 dBm", "blue"),
                  (F_RED_X, F_RED_Y, RED, r"$P$=-91.6 dBm", "red"),
                  (F_GREEN_X, F_GREEN_Y, GREEN, r"$P$=-80.0 dBm", "green")], 0.8, F_RIPPLE)
ax_f.set_xlim(-4, 4)
ax_f.set_ylim(-2, 2.5)
ax_f.set_xticks(np.arange(-4, 5))
ax_f.set_yticks(np.arange(-2, 2.6, 0.5))
ax_f.set_yticklabels(["\u22122.0", "", "\u22121.0", "", "0.0", "", "1.0", "", "2.0", ""])
style_ticks(ax_f)
place_xlabel(fig, ax_f, "Detuning Frequency (Hz)", 2749, 2908)
place_ylabel(fig, ax_f, "Phase (rad)", 1824, 2433)
add_legend(ax_f, fig, 1970, 2057, 9.1)

for tag, x, y in (("(A)", 492, 122), ("(B)", 1978, 122), ("(C)", 107, 1203),
                  ("(D)", 108, 2054), ("(E)", 1816, 1202), ("(F)", 1831, 2070)):
    fig.text(x / W, 1 - y / H, tag, fontsize=19.5, family="Open Sans", color="#231f20", ha="center", va="center")

fig.savefig("out.png", dpi=300, facecolor="white")
